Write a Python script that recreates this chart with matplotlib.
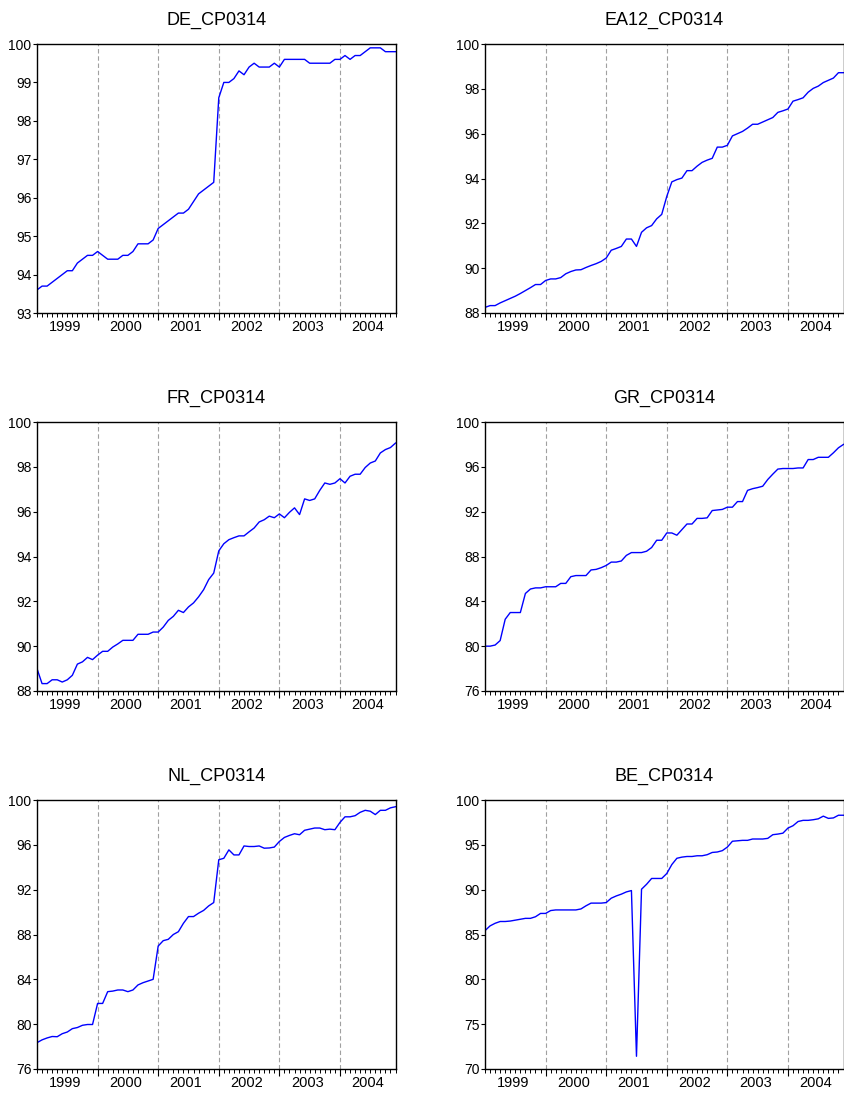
import numpy as np
import matplotlib
matplotlib.use('Agg')
import matplotlib.pyplot as plt

plt.rcParams['font.family'] = ['Liberation Sans', 'DejaVu Sans']

# monthly data 1999M01 - 2004M12
years = ['1999', '2000', '2001', '2002', '2003', '2004']

de = [93.6, 93.7, 93.7, 93.8, 93.9, 94.0, 94.1, 94.1, 94.3, 94.4, 94.5, 94.5,
      94.6, 94.5, 94.4, 94.4, 94.4, 94.5, 94.5, 94.6, 94.8, 94.8, 94.8, 94.9,
      95.2, 95.3, 95.4, 95.5, 95.6, 95.6, 95.7, 95.9, 96.1, 96.2, 96.3, 96.4,
      98.6, 99.0, 99.0, 99.1, 99.3, 99.2, 99.4, 99.5, 99.4, 99.4, 99.4, 99.5,
      99.4, 99.6, 99.6, 99.6, 99.6, 99.6, 99.5, 99.5, 99.5, 99.5, 99.5, 99.6,
      99.6, 99.7, 99.6, 99.7, 99.7, 99.8, 99.9, 99.9, 99.9, 99.8, 99.8, 99.8]

ea12 = [88.25, 88.33, 88.33, 88.45, 88.55, 88.65, 88.75, 88.87, 89.0, 89.13, 89.27, 89.27,
        89.45, 89.52, 89.52, 89.58, 89.75, 89.85, 89.92, 89.93, 90.03, 90.12, 90.2, 90.3,
        90.45, 90.8, 90.88, 90.97, 91.3, 91.3, 90.97, 91.6, 91.8, 91.9, 92.2, 92.4,
        93.2, 93.85, 93.95, 94.02, 94.35, 94.35, 94.55, 94.72, 94.82, 94.9, 95.4, 95.4,
        95.48, 95.9, 96.0, 96.1, 96.25, 96.42, 96.42, 96.52, 96.62, 96.72, 96.95, 97.02,
        97.1, 97.45, 97.52, 97.6, 97.85, 98.02, 98.12, 98.28, 98.38, 98.48, 98.72, 98.72]

fr = [89.0, 88.33, 88.33, 88.5, 88.5, 88.4, 88.5, 88.7, 89.2, 89.3, 89.5, 89.4,
      89.6, 89.77, 89.77, 89.96, 90.1, 90.26, 90.26, 90.26, 90.53, 90.53, 90.53, 90.63,
      90.63, 90.85, 91.15, 91.33, 91.6, 91.5, 91.75, 91.93, 92.2, 92.52, 92.97, 93.26,
      94.25, 94.57, 94.75, 94.84, 94.92, 94.92, 95.1, 95.27, 95.54, 95.64, 95.8, 95.73,
      95.9, 95.73, 95.97, 96.17, 95.87, 96.57, 96.5, 96.57, 96.95, 97.28, 97.22, 97.28,
      97.47, 97.28, 97.58, 97.67, 97.67, 97.97, 98.17, 98.26, 98.62, 98.77, 98.86, 99.06]

gr = [80.0, 80.0, 80.1, 80.5, 82.4, 83.0, 83.0, 83.0, 84.7, 85.1, 85.2, 85.2,
      85.3, 85.3, 85.3, 85.6, 85.6, 86.2, 86.3, 86.3, 86.3, 86.8, 86.85, 87.0,
      87.2, 87.5, 87.5, 87.6, 88.1, 88.35, 88.35, 88.35, 88.47, 88.8, 89.45, 89.45,
      90.1, 90.1, 89.9, 90.4, 90.9, 90.9, 91.4, 91.4, 91.45, 92.1, 92.15, 92.2,
      92.4, 92.4, 92.9, 92.9, 93.9, 94.05, 94.15, 94.27, 94.87, 95.35, 95.8, 95.85,
      95.85, 95.85, 95.9, 95.9, 96.65, 96.65, 96.85, 96.85, 96.85, 97.25, 97.7, 98.0]

nl = [78.35, 78.6, 78.77, 78.9, 78.88, 79.15, 79.3, 79.6, 79.7, 79.9, 79.97, 79.97,
      81.85, 81.85, 82.9, 82.95, 83.05, 83.05, 82.9, 83.05, 83.5, 83.7, 83.85, 84.0,
      86.97, 87.45, 87.57, 88.0, 88.25, 89.0, 89.6, 89.6, 89.9, 90.15, 90.55, 90.85,
      94.67, 94.8, 95.55, 95.1, 95.1, 95.9, 95.85, 95.85, 95.9, 95.7, 95.72, 95.8,
      96.3, 96.66, 96.84, 96.99, 96.9, 97.3, 97.4, 97.5, 97.5, 97.35, 97.4, 97.35,
      98.0, 98.5, 98.5, 98.6, 98.9, 99.08, 99.0, 98.7, 99.08, 99.08, 99.3, 99.4]

be = [85.43, 85.96, 86.25, 86.45, 86.45, 86.5, 86.6, 86.7, 86.8, 86.8, 86.98, 87.35,
      87.35, 87.67, 87.74, 87.74, 87.74, 87.74, 87.74, 87.85, 88.2, 88.5, 88.5, 88.5,
      88.56, 89.05, 89.3, 89.5, 89.75, 89.9, 71.42, 90.05, 90.6, 91.25, 91.25, 91.25,
      91.8, 92.8, 93.5, 93.63, 93.7, 93.7, 93.78, 93.78, 93.9, 94.15, 94.2, 94.35,
      94.75, 95.4, 95.45, 95.5, 95.5, 95.65, 95.65, 95.65, 95.72, 96.13, 96.2, 96.3,
      96.87, 97.13, 97.6, 97.73, 97.73, 97.8, 97.9, 98.2, 97.95, 98.0, 98.3, 98.3]

panels = [
    ('DE_CP0314', de, np.arange(93, 101, 1)),
    ('EA12_CP0314', ea12, np.arange(88, 101, 2)),
    ('FR_CP0314', fr, np.arange(88, 101, 2)),
    ('GR_CP0314', gr, np.arange(76, 101, 4)),
    ('NL_CP0314', nl, np.arange(76, 101, 4)),
    ('BE_CP0314', be, np.arange(70, 101, 5)),
]

W, H = 844, 1095
fig = plt.figure(figsize=(W / 100, H / 100), dpi=100)

lefts = [37, 485]
tops = [44, 422, 800]
aw, ah = 358.5, 269

for i, (name, vals, yt) in enumerate(panels):
    r, c = divmod(i, 2)
    ax = fig.add_axes([lefts[c] / W, 1 - (tops[r] + ah) / H, aw / W, ah / H])
    t = np.arange(len(vals))
    ax.plot(t, vals, color='#0000ff', lw=1.0)
    for k in range(1, 6):
        ax.axvline(12 * k, color='#a0a0a0', lw=0.8, dashes=(4, 2.5), zorder=0)
    ax.set_xlim(0, len(vals) - 1)
    ax.set_ylim(yt[0], yt[-1])
    ax.set_yticks(yt)
    ax.set_yticklabels([str(v) for v in yt])
    ax.tick_params(axis='y', direction='out', length=3, width=0.8, labelsize=10, pad=1)
    # year labels at mid-year, month ticks as minor
    ax.set_xticks([12 * k + 5.5 for k in range(6)])
    ax.set_xticklabels(years)
    ax.set_xticks(t, minor=True)
    ax.tick_params(axis='x', which='major', length=0, labelsize=10.5, pad=5)
    ax.tick_params(axis='x', which='minor', direction='out', length=3, width=0.7)
    sec = ax.secondary_xaxis('bottom')
    sec.set_xticks([12 * k for k in range(1, 6)])
    sec.set_xticklabels([])
    sec.tick_params(length=5, width=0.8)
    sec.spines['bottom'].set_visible(False)
    for s in ax.spines.values():
        s.set_linewidth(1.0)
    ax.set_title(name, fontsize=13, pad=14)

plt.savefig('out.png', dpi=100)
